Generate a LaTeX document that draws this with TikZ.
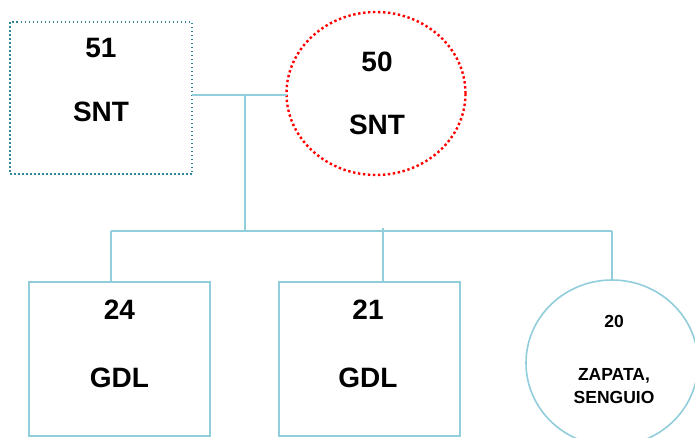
\documentclass[tikz,border=0pt]{standalone}
\usepackage{fontspec}
\setmainfont{Liberation Sans}
\usetikzlibrary{shapes.geometric,positioning}
\definecolor{aqua}{HTML}{92CDDC}
\definecolor{darkaqua}{HTML}{31859C}
\tikzset{unit box/.style={rectangle,draw=aqua,line width=1.6pt,minimum width=181pt,minimum height=154pt,inner sep=0pt,outer sep=0pt},
         unit oval/.style={ellipse,draw=aqua,line width=1.6pt,inner sep=0pt,outer sep=0pt},
         big label/.style={font=\bfseries\fontsize{28}{34}\selectfont,inner sep=0pt},
         small label/.style={font=\bfseries\fontsize{17.5}{23}\selectfont,inner sep=0pt,align=center},
         link/.style={draw=aqua,line width=1.6pt}
}
\begin{document}
\begin{tikzpicture}[x=1pt,y=-1pt]
\useasboundingbox (0,0) rectangle (695,437);
\clip (0,0) rectangle (695,437);

% top level
\node[unit box,draw=darkaqua,line width=1.5pt,dash pattern=on 1.5pt off 2.5pt,
      minimum width=182pt,minimum height=152pt] (n51) at (101,98) {};
\node[unit oval,draw=red,line width=2.4pt,dash pattern=on 2.4pt off 2.6pt,
      minimum width=179pt,minimum height=163pt] (n50) at (376,93.5) {};
\node[big label,below=16pt of n51.north] (n51num) {51};
\node[big label,below=80pt of n51.north] (n51name) {SNT};
\node[big label,below=40pt of n50.north,xshift=1pt] (n50num) {50};
\node[big label,below=103pt of n50.north,xshift=1pt] (n50name) {SNT};

% bottom level
\node[unit box] (n24) at (119.5,359) {};
\node[unit box] (n21) at (369.5,359) {};
\node[unit oval,minimum width=172pt,minimum height=166pt] (n20) at (612,363) {};
\node[big label,below=18pt of n24.north] (n24num) {24};
\node[big label,below=86pt of n24.north] (n24name) {GDL};
\node[big label,below=18pt of n21.north,xshift=-1.5pt] (n21num) {21};
\node[big label,below=86pt of n21.north,xshift=-1.5pt] (n21name) {GDL};
\node[small label,below=35pt of n20.north,xshift=2pt] (n20num) {20};
\node[small label,below=88pt of n20.north,xshift=2pt] (n20name) {ZAPATA,\\SENGUIO};

% connectors
\coordinate (top) at (245,95);
\coordinate (split) at (245,231);
\coordinate (drop24) at (111,231);
\coordinate (drop21) at (383,228);
\path[link] (n51.east |- top) -- (n50.west |- top);
\path[link] (top) -- (split);
\path[link] (drop24) -- (split -| n20.north);
\path[link] (drop24) -- (drop24 |- n24.north);
\path[link] (drop21) -- (drop21 |- n21.north);
\path[link] (split -| n20.north) -- (n20.north);
\end{tikzpicture}
\end{document}
